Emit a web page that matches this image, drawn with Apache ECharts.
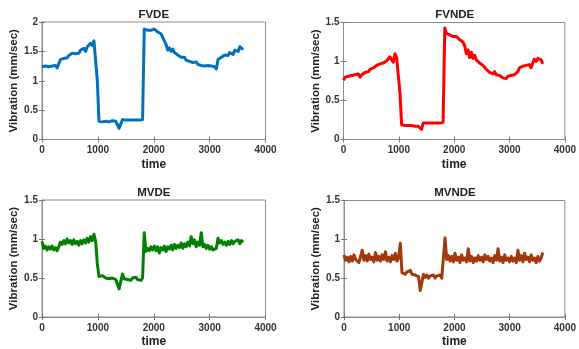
<!DOCTYPE html>
<html>
<head>
<meta charset="utf-8">
<script src="https://cdn.jsdelivr.net/npm/echarts@6/dist/echarts.min.js"></script>
<style>
html,body{margin:0;padding:0;background:#fff;}
#c{width:579px;height:349px;}
</style>
</head>
<body>
<div id="c"></div>
<script>
// time axis (seconds), one sample every 30
const time = [];
for (let i = 0; i <= 120; i++) time.push(i * 30);

const titles = ['FVDE', 'FVNDE', 'MVDE', 'MVNDE'];
const xTicks = [0, 1000, 2000, 3000, 4000];
const yMaxes = [2, 1.5, 1.5, 1.5];

const fvde = [
1.24,1.22,1.25,1.23,1.24,1.22,1.25,1.24,1.26,1.22,1.20,1.36,1.34,1.38,1.40,1.39,1.43,1.41,1.47,1.44,
1.46,1.48,1.47,1.52,1.49,1.55,1.50,1.58,1.56,1.64,1.60,1.68,1.66,1.00,0.31,0.32,0.30,0.32,0.31,0.32,
0.30,0.31,0.32,0.30,0.31,0.29,0.19,0.18,0.34,0.35,0.33,0.34,0.33,0.34,0.33,0.34,0.33,0.34,0.33,0.35,
0.34,1.88,1.87,1.86,1.85,1.86,1.84,1.88,1.85,1.83,1.85,1.80,1.74,1.68,1.62,1.52,1.56,1.50,1.54,1.48,
1.46,1.44,1.42,1.40,1.38,1.40,1.35,1.37,1.33,1.35,1.31,1.30,1.32,1.28,1.30,1.26,1.29,1.25,1.24,1.26,
1.23,1.25,1.22,1.24,1.20,1.36,1.38,1.40,1.42,1.44,1.46,1.43,1.48,1.50,1.45,1.52,1.55,1.50,1.58,1.60,
1.53];

const fvnde = [
0.76,0.80,0.79,0.81,0.80,0.82,0.80,0.83,0.81,0.84,0.80,0.83,0.85,0.86,0.88,0.87,0.90,0.89,0.92,0.93,
0.95,0.94,0.97,0.96,0.98,0.99,1.01,1.00,1.06,1.02,0.99,1.10,1.05,1.07,0.60,0.19,0.19,0.18,0.19,0.18,
0.19,0.18,0.18,0.17,0.18,0.17,0.15,0.13,0.21,0.20,0.21,0.20,0.21,0.20,0.21,0.20,0.21,0.20,0.21,0.21,
0.22,1.43,1.36,1.35,1.34,1.33,1.32,1.31,1.32,1.30,1.28,1.30,1.25,1.20,1.10,1.15,1.05,1.12,1.04,1.08,
1.02,1.04,0.98,0.97,0.95,0.93,0.90,0.88,0.86,0.88,0.84,0.87,0.83,0.85,0.82,0.81,0.79,0.80,0.78,0.81,
0.80,0.82,0.80,0.83,0.85,0.87,0.92,0.90,0.94,0.92,0.95,0.93,0.96,0.92,0.98,1.03,1.00,1.04,1.06,1.02,
0.97];

const mvde = [
0.97,0.88,0.91,0.86,0.90,0.87,0.91,0.86,0.89,0.85,0.90,0.96,0.93,0.98,0.94,1.00,0.95,0.98,0.93,0.99,
0.94,0.97,0.92,0.98,0.94,0.99,0.95,1.01,0.96,1.03,0.98,1.06,0.97,0.68,0.52,0.50,0.53,0.51,0.50,0.52,
0.49,0.51,0.50,0.52,0.48,0.47,0.36,0.35,0.55,0.49,0.51,0.48,0.50,0.47,0.50,0.48,0.51,0.48,0.50,0.47,
0.50,1.08,0.84,0.88,0.85,0.90,0.86,0.91,0.85,0.90,0.82,0.89,0.86,0.91,0.84,0.90,0.87,0.92,0.86,0.93,
0.88,0.92,0.89,0.95,0.88,0.94,0.90,0.96,0.91,1.03,0.94,0.99,0.90,0.96,0.92,1.08,0.90,0.93,0.88,0.92,
0.87,0.90,0.86,0.84,0.88,1.01,0.95,0.98,0.93,0.96,0.92,0.97,0.93,0.98,0.94,0.97,0.95,0.99,0.94,0.98,
0.96];

const mvnde = [
0.80,0.73,0.77,0.71,0.78,0.72,0.80,0.74,0.76,0.70,0.78,0.86,0.73,0.79,0.72,0.81,0.74,0.77,0.71,0.83,
0.73,0.78,0.72,0.80,0.74,0.84,0.72,0.77,0.71,0.79,0.74,0.82,0.72,0.77,0.95,0.57,0.59,0.55,0.58,0.56,
0.60,0.55,0.57,0.54,0.56,0.52,0.34,0.33,0.55,0.51,0.54,0.50,0.53,0.51,0.54,0.50,0.53,0.51,0.54,0.50,
0.52,1.02,0.74,0.79,0.72,0.78,0.71,0.82,0.73,0.77,0.70,0.80,0.73,0.76,0.71,0.88,0.72,0.78,0.70,0.76,
0.72,0.79,0.73,0.77,0.71,0.80,0.74,0.78,0.72,0.76,0.70,0.79,0.73,0.88,0.72,0.77,0.70,0.80,0.73,0.76,
0.71,0.78,0.72,0.76,0.70,0.86,0.73,0.79,0.71,0.82,0.74,0.77,0.71,0.80,0.73,0.76,0.70,0.78,0.72,0.76,
0.83];

const seriesValues = [fvde, fvnde, mvde, mvnde];
const colors = ['#0072BD', '#FF0000', '#008000', '#A2380B'];

const grids = [
  {left: 42, top: 22, width: 223.5, height: 117.5},
  {left: 343.5, top: 22.5, width: 222.5, height: 117},
  {left: 42, top: 200, width: 223.5, height: 117.5},
  {left: 344, top: 200.5, width: 222, height: 117.5}
];

const font = 'Liberation Sans, Arial, sans-serif';
const txt = '#333';
const borderC = '#8c8c8c';

const option = {
  animation: false,
  backgroundColor: '#fff',
  title: [], grid: [], xAxis: [], yAxis: [], series: []
};

grids.forEach((g, k) => {
  option.grid.push({left: g.left, top: g.top, width: g.width, height: g.height,
    show: true, borderColor: borderC, borderWidth: 1, backgroundColor: '#fff', containLabel: false});
  option.title.push({
    text: titles[k], left: g.left + g.width / 2, top: g.top - 13.5, textAlign: 'center', padding: 0,
    textStyle: {fontFamily: font, fontWeight: 'bold', fontSize: 11.5, color: '#222'}
  });
  const yInt = 0.5;
  option.xAxis.push({
    type: 'value', gridIndex: k, min: xTicks[0], max: xTicks[xTicks.length - 1], interval: 1000,
    position: 'bottom',
    name: 'time', nameLocation: 'middle', nameGap: 19,
    nameTextStyle: {fontFamily: font, fontWeight: 'bold', fontSize: 12, color: '#222'},
    axisLine: {show: true, lineStyle: {color: borderC, width: 1}},
    axisTick: {show: true, inside: true, length: 3, lineStyle: {color: '#777'}},
    axisLabel: {fontFamily: font, fontWeight: 'bold', fontSize: 10, color: txt, margin: 6,
      formatter: v => String(v)},
    splitLine: {show: false}
  });
  option.xAxis.push({
    type: 'value', gridIndex: k, min: 0, max: 4000, interval: 1000, position: 'top',
    axisLine: {show: false},
    axisTick: {show: true, inside: true, length: 3, lineStyle: {color: '#777'}},
    axisLabel: {show: false}, splitLine: {show: false}
  });
  option.yAxis.push({
    type: 'value', gridIndex: k, min: 0, max: yMaxes[k], interval: yInt, position: 'left',
    name: 'Vibration (mm/sec)', nameLocation: 'middle', nameGap: 17, nameRotate: 90,
    nameTextStyle: {fontFamily: font, fontWeight: 'bold', fontSize: 11.5, color: '#222'},
    axisLine: {show: true, lineStyle: {color: borderC, width: 1}},
    axisTick: {show: true, inside: true, length: 3, lineStyle: {color: '#777'}},
    axisLabel: {fontFamily: font, fontWeight: 'bold', fontSize: 10, color: txt, margin: 4,
      formatter: v => String(v)},
    splitLine: {show: false}
  });
  option.yAxis.push({
    type: 'value', gridIndex: k, min: 0, max: yMaxes[k], interval: yInt, position: 'right',
    axisLine: {show: false},
    axisTick: {show: true, inside: true, length: 3, lineStyle: {color: '#777'}},
    axisLabel: {show: false}, splitLine: {show: false}
  });
  option.series.push({
    type: 'line', xAxisIndex: 2 * k, yAxisIndex: 2 * k,
    data: time.map((t, i) => [t, seriesValues[k][i]]),
    showSymbol: false, symbol: 'none',
    lineStyle: {color: colors[k], width: 3, join: 'round'}, itemStyle: {color: colors[k]}
  });
});

const chart = echarts.init(document.getElementById('c'), null, {renderer: 'canvas'});
chart.setOption(option);
</script>
</body>
</html>
